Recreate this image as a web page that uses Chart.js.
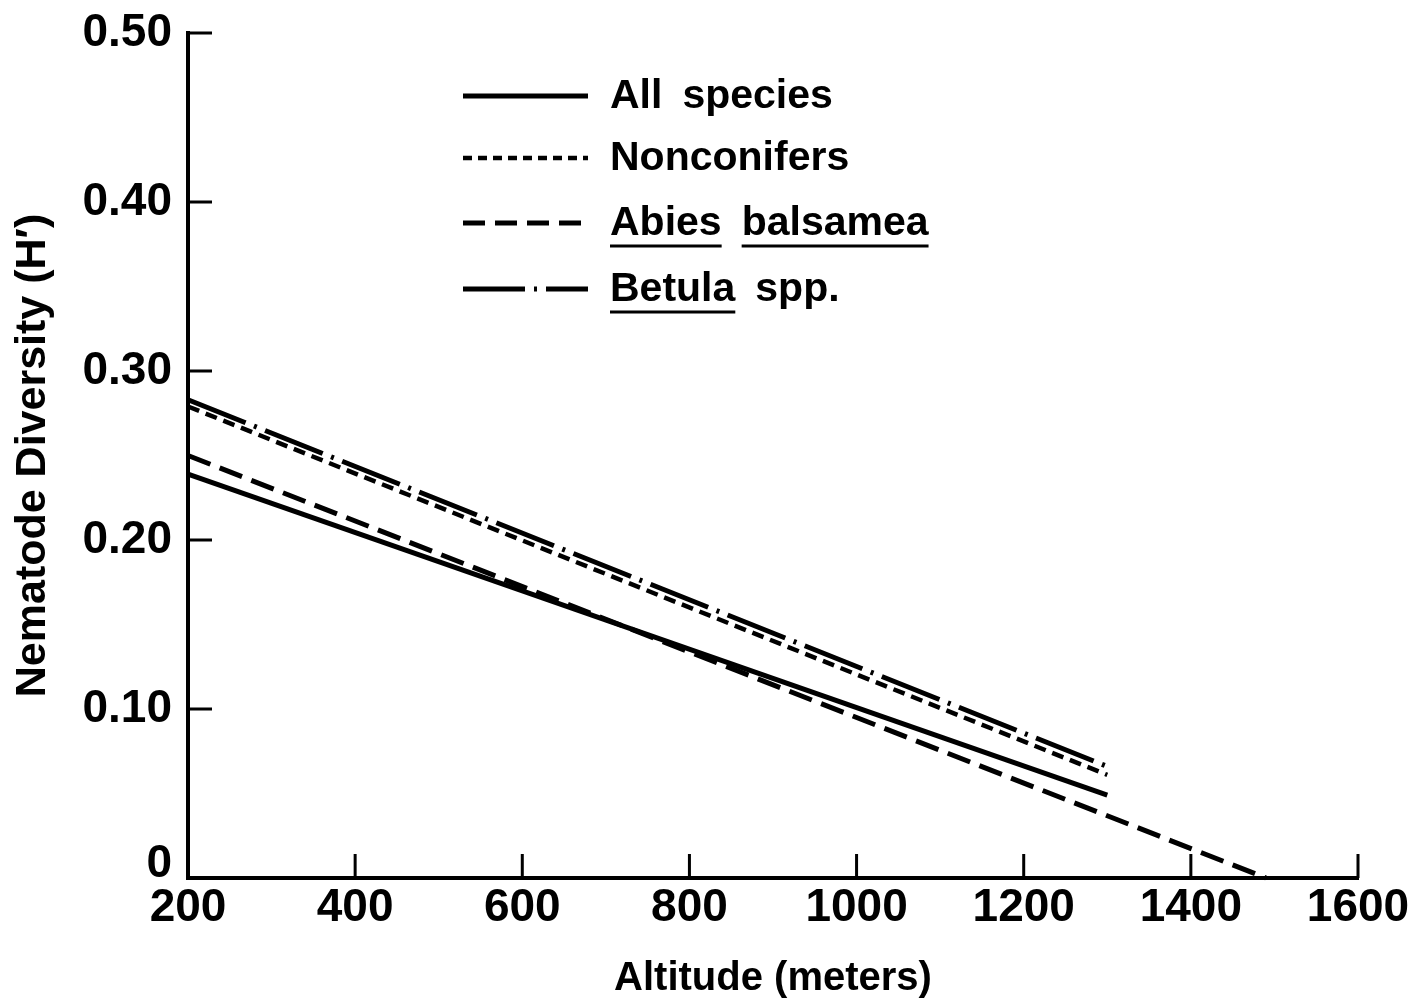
<!DOCTYPE html>
<html>
<head>
<meta charset="utf-8">
<script src="https://cdn.jsdelivr.net/npm/chart.js@4"></script>
<style>
  html, body { margin: 0; padding: 0; background: #fff; }
  #wrap { width: 1412px; height: 1003px; }
</style>
</head>
<body>
<div id="wrap"><canvas id="chart" width="1412" height="1003"></canvas></div>
<script>
// ——————————————————————————————
// data (regression lines, two ends each)
// ——————————————————————————————
const altitudeShort = [200, 1300];
const altitudeAbies = [200, 1490];
const allSpecies = [0.239, 0.049];
const nonconifers = [0.279, 0.061];
const abiesBalsamea = [0.250, 0.0];
const betulaSpp = [0.283, 0.066];

const xTicks = [200, 400, 600, 800, 1000, 1200, 1400, 1600];
const yTicks = [0, 0.1, 0.2, 0.3, 0.4, 0.5];

// words to underline in the legend (species names in italics in print)
const legendUnderline = [[], [], ["Abies", "balsamea"], ["Betula"]];

const FONT = "'Liberation Sans', Arial, Helvetica, sans-serif";
const TICK_FONT = { family: FONT, size: 46, weight: "bold" };

function pts(xs, ys) {
  return xs.map((x, i) => ({ x, y: ys[i] }));
}

// inward tick marks like the printed figure, plus the raised "0" label
const innerTicks = {
  id: "innerTicks",
  afterDraw(chart) {
    const { ctx, chartArea: a, scales: { x, y } } = chart;
    ctx.save();
    ctx.strokeStyle = "#000";
    ctx.lineWidth = 3;
    ctx.beginPath();
    xTicks.slice(1).forEach(v => {
      const px = x.getPixelForValue(v);
      ctx.moveTo(px, a.bottom);
      ctx.lineTo(px, a.bottom - 24);
    });
    yTicks.slice(1).forEach(v => {
      const py = y.getPixelForValue(v);
      ctx.moveTo(a.left, py);
      ctx.lineTo(a.left + 24, py);
    });
    ctx.stroke();
    // y "0" sits a bit above the x axis in the print
    ctx.font = "bold 46px " + FONT;
    ctx.fillStyle = "#000";
    ctx.textAlign = "right";
    ctx.textBaseline = "middle";
    ctx.fillText(String(yTicks[0]), a.left - 16, y.getPixelForValue(yTicks[0]) - 14);
    ctx.restore();
  }
};

// legend block with line samples + underlined names
const lineLegend = {
  id: "lineLegend",
  afterDraw(chart) {
    const ctx = chart.ctx;
    const x0 = 463, x1 = 588, tx = 610;
    const rowsY = [96, 158, 223, 289];
    ctx.save();
    ctx.font = "bold 41px " + FONT;
    ctx.textBaseline = "middle";
    ctx.fillStyle = "#000";
    chart.data.datasets.forEach((ds, i) => {
      const yy = rowsY[i];
      ctx.strokeStyle = "#000";
      ctx.lineWidth = ds.borderWidth;
      ctx.setLineDash(ds.legendDash || ds.borderDash || []);
      ctx.beginPath();
      ctx.moveTo(x0, yy);
      ctx.lineTo(x1, yy);
      ctx.stroke();
      ctx.setLineDash([]);
      let cx = tx;
      ds.label.split(" ").forEach(w => {
        const wW = ctx.measureText(w).width;
        ctx.fillText(w, cx, yy + 1);
        if (legendUnderline[i].includes(w)) {
          ctx.lineWidth = 3;
          ctx.beginPath();
          ctx.moveTo(cx, yy + 23);
          ctx.lineTo(cx + wW, yy + 23);
          ctx.stroke();
        }
        cx += wW + 20;
      });
    });
    ctx.restore();
  }
};

const common = { borderColor: "#000", borderWidth: 5, pointRadius: 0, showLine: true, fill: false, clip: false, tension: 0 };

new Chart(document.getElementById("chart"), {
  type: "scatter",
  data: {
    datasets: [
      { ...common, label: "All species", data: pts(altitudeShort, allSpecies) },
      { ...common, label: "Nonconifers", data: pts(altitudeShort, nonconifers), borderWidth: 4.5, borderDash: [12, 7], legendDash: [9, 6] },
      { ...common, label: "Abies balsamea", data: pts(altitudeAbies, abiesBalsamea), borderDash: [24, 10], legendDash: [22, 10] },
      { ...common, label: "Betula spp.", data: pts(altitudeShort, betulaSpp), borderDash: [62, 9, 3, 9] }
    ]
  },
  options: {
    responsive: false,
    animation: false,
    layout: { padding: { left: 0, right: 54, top: 33, bottom: 0 } },
    plugins: { legend: { display: false }, tooltip: { enabled: false } },
    scales: {
      x: {
        type: "linear",
        min: 200, max: 1600,
        afterFit: s => { s.height = 125; s.paddingLeft = 0; s.paddingRight = 0; },
        afterBuildTicks: s => { s.ticks = xTicks.map(v => ({ value: v })); },
        grid: { display: false, drawTicks: false },
        border: { display: true, color: "#000", width: 4 },
        ticks: { color: "#000", padding: 3, maxRotation: 0, font: TICK_FONT, callback: v => String(v) },
        title: { display: true, text: "Altitude (meters)", color: "#000", padding: { top: 0, bottom: 0 }, font: { family: FONT, size: 40, weight: "bold" } }
      },
      y: {
        type: "linear",
        min: 0, max: 0.5,
        afterFit: s => { s.width = 188; s.paddingTop = 0; s.paddingBottom = 0; },
        afterBuildTicks: s => { s.ticks = yTicks.map(v => ({ value: v })); },
        grid: { display: false, drawTicks: false },
        border: { display: true, color: "#000", width: 4 },
        ticks: { color: "#000", padding: 16, font: TICK_FONT, callback: v => v === 0 ? "" : v.toFixed(2) },
        title: { display: true, text: "Nematode Diversity (H\u2032)", color: "#000", padding: { top: 7, bottom: 0 }, font: { family: FONT, size: 43, weight: "bold" } }
      }
    }
  },
  plugins: [innerTicks, lineLegend]
});
</script>
</body>
</html>
